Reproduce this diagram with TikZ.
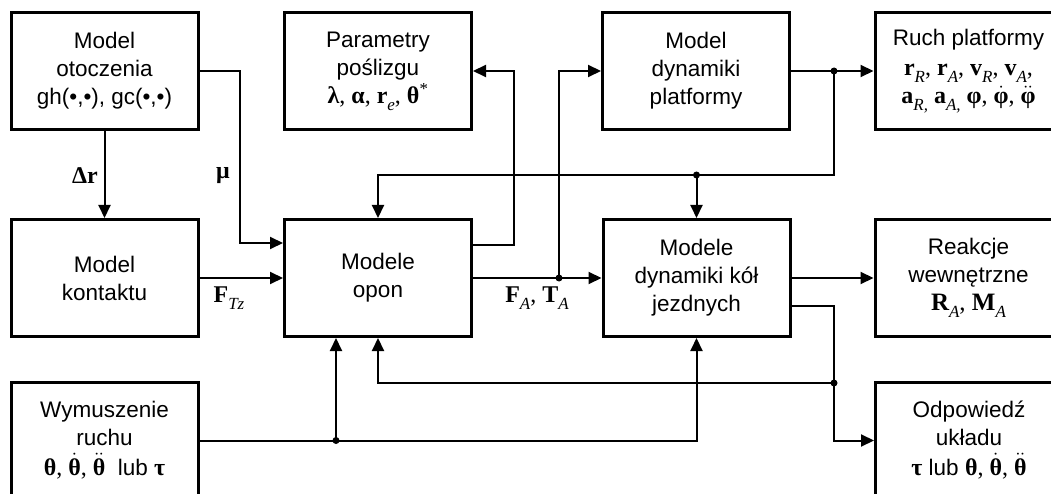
\documentclass[tikz,border=0pt]{standalone}
\usepackage{fontspec}
\setmainfont{Liberation Sans}
\newfontfamily\tms{Liberation Serif}
\usetikzlibrary{arrows.meta}
% bold serif symbols, italic subscripts and dotted derivatives
\newcommand\mb[1]{{\tms\bfseries #1}}
\newcommand\sbx[1]{\raisebox{-0.28em}{\fontsize{17}{17}\selectfont\tms\mdseries\itshape #1}}
\newcommand\dt[1]{\ensuremath{\dot{\hbox{\mb{#1}}}}}
\newcommand\ddt[1]{\ensuremath{\ddot{\hbox{\mb{#1}}}}}
\newcommand\mline{\fontsize{24}{28}\selectfont\tms}
\begin{document}
\begin{tikzpicture}[x=1pt,y=-1pt,
  blok/.style={draw, line width=3pt, minimum width=187pt, minimum height=117pt,
    align=center, inner sep=0pt, font=\fontsize{22.5}{28}\selectfont},
  link/.style={line width=2pt},
  arr/.style={link, -{Triangle[length=13pt,width=12pt]}},
  lbl/.style={inner sep=0pt, font=\fontsize{24}{28}\selectfont},
  jdot/.style={fill=black}]
\useasboundingbox (0,0) rectangle (1051,494);
\clip (0,0) rectangle (1051,494);

% blocks
\node[blok] (ot) at (104.5,71) {Model\\otoczenia\\gh(•,•), gc(•,•)};
\node[blok] (par) at (378,71) {Parametry\\poślizgu\\{\mline\mb{λ}, \mb{α}, \mb{r}\sbx{e}, \mb{θ}\textsuperscript{*}}};
\node[blok] (pla) at (696,71) {Model\\dynamiki\\platformy};
\node[blok] (ruch) at (968.5,71) {Ruch platformy\\[2pt]{\mline\mb{r}\sbx{R}, \mb{r}\sbx{A}, \mb{v}\sbx{R}, \mb{v}\sbx{A},}\\{\mline\mb{a}\sbx{R,} \mb{a}\sbx{A,} \mb{φ}, \dt{φ}, \ddt{φ}}};
\node[blok] (kon) at (104.5,278) {Model\\kontaktu};
\node[blok] (opo) at (378,278) {Modele\\opon};
\node[blok] (kol) at (696.5,278) {Modele\\dynamiki kół\\jezdnych};
\node[blok] (rea) at (968.5,278) {Reakcje\\wewnętrzne\\{\fontsize{25}{28}\selectfont\tms\mb{R}\sbx{A}, \mb{M}\sbx{A}}};
\node[blok] (wym) at (104.5,440.5) {Wymuszenie\\ruchu\\[2pt]{\mline\mb{θ}, \dt{θ}, \ddt{θ}}\ \ lub {\mline\mb{τ}}};
\node[blok] (odp) at (969,440.5) {Odpowiedź\\układu\\[2pt]{\mline\mb{τ}} lub\ {\mline\mb{θ}, \dt{θ}, \ddt{θ}}};

% helper points
\coordinate (c175) at (0,175);
\coordinate (mu) at (240,243);
\coordinate (ps) at (514,150);
\coordinate (j1) at ([xshift=86pt]opo.east);
\coordinate (j2) at ([xshift=43pt]pla.east);
\coordinate (j3) at (kol.north |- c175);
\coordinate (j4) at (j2 |- 0,383);
\coordinate (j5) at (336,0 |- wym.east);

% connectors
\draw[arr] (ot.south) -- (kon.north);
\draw[arr] (ot.east) -| (mu) -- (mu -| opo.west);
\draw[arr] (kon.east) -- (opo.west);
\draw[arr] ([yshift=33pt]opo.east) -| (ps) |- (par.east);
\draw[arr] (opo.east) -- (kol.west);
\draw[arr] (j1) |- (pla.west);
\draw[arr] (pla.east) -- (ruch.west);
\draw[arr] (j2) |- (opo.north |- c175) -- (opo.north);
\draw[arr] (j3) -- (kol.north);
\draw[arr] (kol.east) -- (rea.west);
\draw[arr] ([yshift=-28pt]kol.east) -| (j2 |- odp.west) -- (odp.west);
\draw[arr] (j4) -| (opo.south);
\draw[arr] (wym.east) -| (kol.south);
\draw[arr] (j5) -- (j5 |- opo.south);

% junction dots
\foreach \j in {j1,j2,j3,j4,j5} \fill[jdot] (\j) circle (3.5pt);

% signal labels
\node[lbl] (ldr) at (85,176) {\mb{Δr}};
\node[lbl] (lmu) at (223,176) {\mb{μ}};
\node[lbl] (lft) at (229,298) {\tms\mb{F}\sbx{Tz}};
\node[lbl] (lfa) at (537,298) {\tms\mb{F}\sbx{A}, \mb{T}\sbx{A}};
\end{tikzpicture}
\end{document}
